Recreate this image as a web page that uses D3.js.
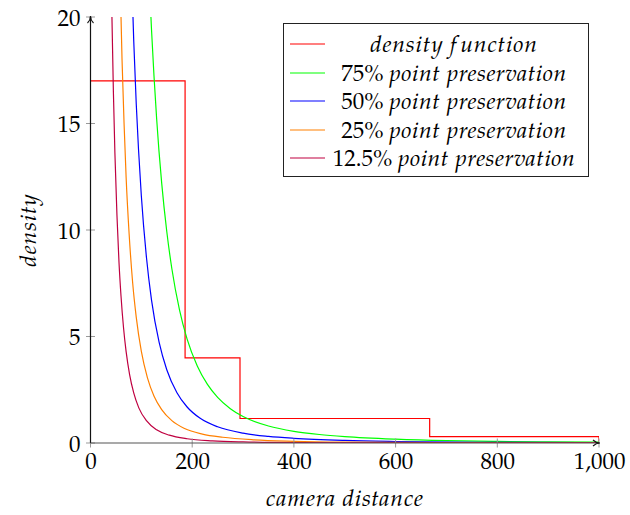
<!DOCTYPE html>
<html><head><meta charset="utf-8">
<script src="https://cdn.jsdelivr.net/npm/d3@7"></script>
<style>
html,body{margin:0;padding:0;background:#fff;}
</style></head>
<body><div id="chart"></div>
<script>
// ---- data ----
const xTicks = [0, 200, 400, 600, 800, 1000];
const xTickLabels = ["0", "200", "400", "600", "800", "1,000"];
const yTicks = [0, 5, 10, 15, 20];
const yTickLabels = ["0", "5", "10", "15", "20"];

const stepDistance = [0, 186, 294, 667, 1000, 1000];
const stepDensity  = [17, 4, 1.15, 0.3, 0.3, 0];

const p75Distance = [115, 120, 130, 140, 150, 160, 175, 190, 210, 230, 250, 275, 300, 350, 400, 450, 500, 600, 700, 800, 900, 1000];
const p75Density  = [22.0, 19.4, 15.25, 12.2, 9.93, 8.18, 6.25, 4.88, 3.62, 2.75, 2.14, 1.61, 1.24, 0.8, 0.55, 0.4, 0.3, 0.18, 0.11, 0.075, 0.055, 0.04];

const p50Distance = [80, 85, 90, 100, 110, 120, 135, 150, 170, 190, 215, 250, 300, 350, 400, 500, 600, 800, 1000];
const p50Density  = [22.7, 18.9, 15.9, 11.6, 8.72, 6.71, 4.72, 3.44, 2.36, 1.69, 1.17, 0.76, 0.46, 0.31, 0.22, 0.12, 0.07, 0.03, 0.015];

const p25Distance = [58, 62, 66, 70, 76, 83, 90, 100, 112, 125, 140, 160, 185, 220, 260, 320, 400, 500, 700, 1000];
const p25Density  = [22.0, 18.0, 15.0, 12.5, 9.8, 7.5, 5.9, 4.3, 3.06, 2.2, 1.57, 1.05, 0.68, 0.42, 0.27, 0.15, 0.08, 0.04, 0.015, 0.005];

const p12Distance = [40, 42, 45, 48, 52, 56, 60, 65, 70, 77, 85, 95, 110, 130, 155, 190, 240, 300, 400, 600, 1000];
const p12Density  = [23.4, 20.2, 16.5, 13.6, 10.7, 8.5, 6.9, 5.4, 4.3, 3.2, 2.35, 1.65, 1.05, 0.62, 0.37, 0.2, 0.1, 0.05, 0.02, 0.007, 0.002];

const seriesNames = ["density function", "75%", "50%", "25%", "12.5%"];
const seriesColors = ["#ff0000", "#00ff00", "#0000ff", "#ff8000", "#bf0040"];

const FONT = '"TeX Gyre Pagella", "Liberation Serif", serif';
const FS = "23px";
const LS = "0.8px";

// ---- chart ----
const W = 630, H = 515;
const svg = d3.select("#chart").append("svg").attr("width", W).attr("height", H);

const x = d3.scaleLinear().domain([0, 1000]).range([90.5, 599]);
const y = d3.scaleLinear().domain([0, 20]).range([443, 17]);

svg.append("defs").append("clipPath").attr("id", "clip")
  .append("rect").attr("x", x(0)).attr("y", y(20)).attr("width", x(1000) - x(0)).attr("height", y(0) - y(20));

const line = d3.line().x(d => x(d[0])).y(d => y(d[1]));
const zip = (a, b) => a.map((v, i) => [v, b[i]]);

const plot = svg.append("g").attr("clip-path", "url(#clip)");
plot.append("path").datum(zip(stepDistance, stepDensity))
  .attr("d", d3.line().x(d => x(d[0])).y(d => y(d[1])).curve(d3.curveStepAfter))
  .attr("fill", "none").attr("stroke", seriesColors[0]).attr("stroke-width", 1.2);

const curves = [[p75Distance, p75Density], [p50Distance, p50Density], [p25Distance, p25Density], [p12Distance, p12Density]];
curves.forEach((c, i) => {
  plot.append("path").datum(zip(c[0], c[1]))
    .attr("d", line.curve(d3.curveMonotoneX))
    .attr("fill", "none").attr("stroke", seriesColors[i + 1]).attr("stroke-width", 1.2);
});

// axes
const xAxis = d3.axisBottom(x).tickValues(xTicks).tickFormat((d, i) => xTickLabels[i]).tickSize(0).tickPadding(10);
const gx = svg.append("g").attr("transform", `translate(0,${y(0)})`).call(xAxis);
gx.select(".domain").remove();
gx.selectAll("text").style("font-family", FONT).style("font-size", FS).attr("fill", "#000");

const yAxis = d3.axisLeft(y).tickValues(yTicks).tickFormat((d, i) => yTickLabels[i]).tickSize(0).tickPadding(10);
const gy = svg.append("g").attr("transform", `translate(${x(0)},0)`).call(yAxis);
gy.select(".domain").remove();
gy.selectAll("text").style("font-family", FONT).style("font-size", FS).attr("fill", "#000").attr("dy", "0.35em");

// tick marks crossing axes
svg.append("g").selectAll("line").data(xTicks).join("line")
  .attr("x1", d => x(d)).attr("x2", d => x(d)).attr("y1", y(0) - 4.5).attr("y2", y(0) + 4.5)
  .attr("stroke", "#999").attr("stroke-width", 1);
svg.append("g").selectAll("line").data(yTicks).join("line")
  .attr("x1", x(0) - 4.5).attr("x2", x(0) + 4.5).attr("y1", d => y(d)).attr("y2", d => y(d))
  .attr("stroke", "#999").attr("stroke-width", 1);

// axis lines with arrows
svg.append("line").attr("x1", x(0)).attr("x2", x(0)).attr("y1", y(0)).attr("y2", y(20))
  .attr("stroke", "#111").attr("stroke-width", 1.2);
svg.append("line").attr("x1", x(0)).attr("x2", x(1000)).attr("y1", y(0)).attr("y2", y(0))
  .attr("stroke", "#555").attr("stroke-width", 1.2);
svg.append("path").attr("d", `M${x(0)-3},${y(20)+6} Q${x(0)},${y(20)+3} ${x(0)},${y(20)-1} Q${x(0)},${y(20)+3} ${x(0)+3},${y(20)+6}`)
  .attr("fill", "none").attr("stroke", "#111").attr("stroke-width", 1.1);
svg.append("path").attr("d", `M${x(1000)-6},${y(0)-3} Q${x(1000)-3},${y(0)} ${x(1000)+1},${y(0)} Q${x(1000)-3},${y(0)} ${x(1000)-6},${y(0)+3}`)
  .attr("fill", "none").attr("stroke", "#111").attr("stroke-width", 1.1);

// axis titles
svg.append("text").attr("x", 345).attr("y", 506).attr("text-anchor", "middle")
  .style("font-family", FONT).style("font-size", FS).style("font-style", "italic").style("letter-spacing", LS)
  .text("camera distance");
svg.append("text").attr("transform", "translate(36,230) rotate(-90)").attr("text-anchor", "middle")
  .style("font-family", FONT).style("font-size", FS).style("font-style", "italic").style("letter-spacing", LS)
  .text("density");

// legend
const lg = svg.append("g");
lg.append("rect").attr("x", 283.5).attr("y", 23.5).attr("width", 305).attr("height", 153)
  .attr("fill", "#fff").attr("stroke", "#222").attr("stroke-width", 1);
const rowY = [44, 73, 101, 130, 158];
seriesNames.forEach((name, i) => {
  lg.append("line").attr("x1", 290).attr("x2", 325).attr("y1", rowY[i]).attr("y2", rowY[i])
    .attr("stroke", seriesColors[i]).attr("stroke-width", 1.2);
  const t = lg.append("text").attr("x", 454).attr("y", rowY[i]).attr("dy", "0.33em")
    .attr("text-anchor", "middle").style("font-family", FONT).style("font-size", FS);
  if (i === 0) {
    t.append("tspan").style("font-style", "italic").style("letter-spacing", LS).text("density f");
    t.append("tspan").attr("dx", 3).style("font-style", "italic").style("letter-spacing", LS).text("unction");
  } else {
    t.append("tspan").text(name + " ");
    t.append("tspan").style("font-style", "italic").style("letter-spacing", "0.5px").text("point preservation");
  }
});
</script></body></html>
